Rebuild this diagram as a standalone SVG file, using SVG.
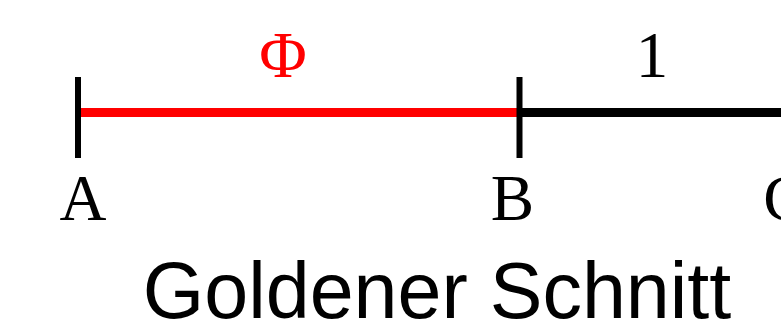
<svg xmlns="http://www.w3.org/2000/svg" width="781" height="334" viewBox="0 0 781 334">
<style>
.serif{font-family:"Liberation Serif","Times New Roman",serif;font-size:65px;text-anchor:middle}
.title{font-family:"Liberation Sans",Arial,sans-serif;font-size:79px;text-anchor:middle;fill:#000}
.tick{stroke:#000;stroke-width:6}
</style>
<rect width="781" height="334" fill="#fff"/>
<g id="connectors">
<line x1="78" y1="112.5" x2="519.5" y2="112.5" stroke="#ff0000" stroke-width="9"/>
<line x1="519.5" y1="112.5" x2="800" y2="112.5" stroke="#000" stroke-width="9"/>
</g>
<g id="A">
<line class="tick" x1="78" y1="77" x2="78" y2="158"/>
<text class="serif" x="83" y="220">A</text>
</g>
<g id="B">
<line class="tick" x1="519.5" y1="77" x2="519.5" y2="158"/>
<text class="serif" x="512.5" y="220">B</text>
</g>
<g id="C">
<text class="serif" x="785" y="220">C</text>
</g>
<g id="phi">
<text class="serif" x="283" y="77" fill="#ff0000">Φ</text>
</g>
<g id="one">
<text class="serif" x="652" y="77">1</text>
</g>
<g id="title">
<text class="title" x="437" y="318">Goldener Schnitt</text>
</g>
</svg>
